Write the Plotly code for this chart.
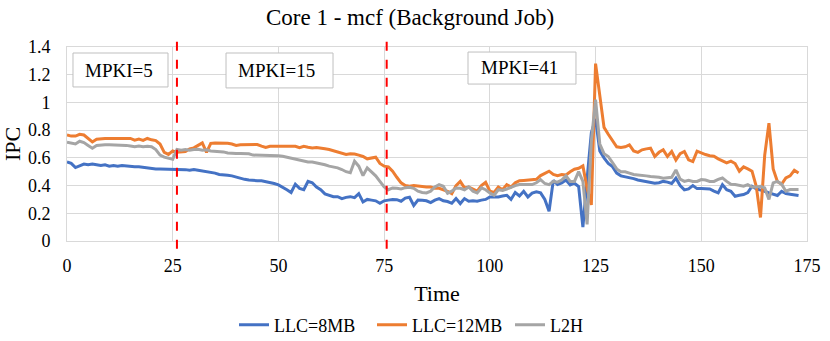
import plotly.graph_objects as go

time = list(range(174))

llc_8mb = [0.57, 0.56, 0.53, 0.54, 0.555, 0.55, 0.555, 0.55, 0.545, 0.55,
           0.54, 0.545, 0.54, 0.545, 0.54, 0.535, 0.535, 0.535, 0.53, 0.53,
           0.525, 0.52, 0.52, 0.52, 0.52, 0.52, 0.52, 0.515, 0.515, 0.51,
           0.515, 0.51, 0.505, 0.505, 0.5, 0.49, 0.48, 0.48, 0.475, 0.47,
           0.46, 0.455, 0.445, 0.44, 0.435, 0.435, 0.435, 0.43, 0.42, 0.415,
           0.405, 0.39, 0.37, 0.35, 0.41, 0.38, 0.37, 0.43, 0.42, 0.39,
           0.37, 0.34, 0.33, 0.32, 0.32, 0.306, 0.315, 0.32, 0.313, 0.342,
           0.282, 0.30, 0.295, 0.29, 0.272, 0.29, 0.295, 0.30, 0.298, 0.287,
           0.31, 0.316, 0.257, 0.296, 0.294, 0.29, 0.277, 0.295, 0.306, 0.29,
           0.285, 0.272, 0.306, 0.27, 0.306, 0.287, 0.29, 0.287, 0.295, 0.30,
           0.318, 0.318, 0.318, 0.325, 0.33, 0.30, 0.35, 0.325, 0.359, 0.318,
           0.345, 0.355, 0.347, 0.30, 0.215, 0.437, 0.407, 0.42, 0.44, 0.405,
           0.417, 0.393, 0.10, 0.45, 0.78, 0.88, 0.65, 0.60, 0.56, 0.537,
           0.49, 0.47, 0.465, 0.455, 0.45, 0.44, 0.435, 0.43, 0.425, 0.417,
           0.42, 0.43, 0.425, 0.415, 0.453, 0.40, 0.369, 0.376, 0.40, 0.378,
           0.378, 0.376, 0.376, 0.36, 0.347, 0.407, 0.37, 0.359, 0.323, 0.33,
           0.335, 0.35, 0.395, 0.376, 0.37, 0.359, 0.347, 0.335, 0.328, 0.359,
           0.342, 0.338, 0.335, 0.328]

llc_12mb = [0.765, 0.757, 0.757, 0.77, 0.765, 0.74, 0.715, 0.735, 0.74, 0.74,
            0.74, 0.74, 0.74, 0.74, 0.735, 0.74, 0.728, 0.735, 0.726, 0.74,
            0.73, 0.725, 0.70, 0.64, 0.625, 0.65, 0.64, 0.645, 0.645, 0.665,
            0.672, 0.69, 0.708, 0.64, 0.705, 0.708, 0.708, 0.706, 0.705, 0.70,
            0.69, 0.695, 0.696, 0.696, 0.697, 0.696, 0.685, 0.675, 0.684, 0.684,
            0.684, 0.684, 0.684, 0.684, 0.684, 0.674, 0.684, 0.677, 0.672, 0.675,
            0.668, 0.665, 0.66, 0.65, 0.64, 0.632, 0.624, 0.63, 0.628, 0.62,
            0.61, 0.593, 0.60, 0.605, 0.56, 0.54, 0.535, 0.504, 0.46, 0.42,
            0.40, 0.395, 0.40, 0.395, 0.395, 0.39, 0.39, 0.38, 0.38, 0.37,
            0.359, 0.342, 0.40, 0.43, 0.383, 0.39, 0.375, 0.36, 0.40, 0.424,
            0.36, 0.35, 0.39, 0.37, 0.407, 0.39, 0.42, 0.435, 0.437, 0.44,
            0.447, 0.445, 0.472, 0.49, 0.504, 0.48, 0.472, 0.48, 0.477, 0.50,
            0.518, 0.525, 0.542, 0.38, 0.26, 1.28, 1.05, 0.82, 0.77, 0.72,
            0.68, 0.675, 0.68, 0.694, 0.65, 0.64, 0.658, 0.665, 0.67, 0.61,
            0.64, 0.658, 0.61, 0.646, 0.585, 0.63, 0.646, 0.586, 0.573, 0.648,
            0.635, 0.624, 0.615, 0.612, 0.593, 0.58, 0.564, 0.576, 0.559, 0.504,
            0.535, 0.52, 0.504, 0.395, 0.17, 0.62, 0.85, 0.52, 0.43, 0.41,
            0.455, 0.47, 0.51, 0.49]

l2h = [0.713, 0.705, 0.70, 0.72, 0.71, 0.69, 0.67, 0.69, 0.695, 0.695,
       0.695, 0.695, 0.695, 0.69, 0.69, 0.685, 0.68, 0.685, 0.68, 0.683,
       0.68, 0.66, 0.62, 0.605, 0.595, 0.59, 0.66, 0.655, 0.66, 0.655,
       0.66, 0.662, 0.655, 0.658, 0.65, 0.648, 0.645, 0.643, 0.635, 0.631,
       0.631, 0.631, 0.631, 0.63, 0.62, 0.62, 0.62, 0.62, 0.62, 0.62,
       0.615, 0.612, 0.605, 0.598, 0.59, 0.58, 0.576, 0.57, 0.57, 0.565,
       0.558, 0.55, 0.54, 0.535, 0.528, 0.516, 0.50, 0.492, 0.576, 0.54,
       0.472, 0.528, 0.50, 0.47, 0.43, 0.39, 0.37, 0.383, 0.38, 0.376,
       0.385, 0.388, 0.38, 0.359, 0.35, 0.347, 0.36, 0.39, 0.407, 0.395,
       0.345, 0.36, 0.383, 0.38, 0.37, 0.39, 0.36, 0.347, 0.383, 0.37,
       0.347, 0.33, 0.37, 0.365, 0.375, 0.39, 0.40, 0.407, 0.407, 0.407,
       0.407, 0.42, 0.443, 0.415, 0.407, 0.43, 0.425, 0.44, 0.47, 0.43,
       0.43, 0.50, 0.43, 0.12, 0.72, 1.02, 0.70, 0.63, 0.61, 0.565,
       0.52, 0.50, 0.50, 0.49, 0.48, 0.477, 0.475, 0.47, 0.465, 0.465,
       0.46, 0.453, 0.455, 0.46, 0.513, 0.446, 0.43, 0.438, 0.43, 0.43,
       0.443, 0.44, 0.43, 0.43, 0.445, 0.455, 0.43, 0.41, 0.407, 0.40,
       0.395, 0.407, 0.39, 0.39, 0.395, 0.383, 0.30, 0.42, 0.43, 0.41,
       0.359, 0.371, 0.371, 0.371]

series_names = ["LLC=8MB", "LLC=12MB", "L2H"]
series_colors = ["#4472C4", "#ED7D31", "#A5A5A5"]

x_ticks = [0, 25, 50, 75, 100, 125, 150, 175]
y_ticks = [0, 0.2, 0.4, 0.6, 0.8, 1.0, 1.2, 1.4]
y_tick_text = ["0", "0.2", "0.4", "0.6", "0.8", "1", "1.2", "1.4"]

phase_boundaries = [26, 75.6]
phase_labels = ["MPKI=5", "MPKI=15", "MPKI=41"]
# label boxes in paper coordinates: (x0, x1, y0, y1, text_x, text_y)
phase_boxes = [(0.0081, 0.1365, 0.794, 0.969, 0.0216, 0.881),
               (0.2149, 0.3595, 0.789, 0.969, 0.2284, 0.879),
               (0.5419, 0.6878, 0.809, 0.974, 0.5568, 0.892)]

FONT = "Liberation Serif"

fig = go.Figure()
for name, vals, col in zip(series_names, [llc_8mb, llc_12mb, l2h], series_colors):
    fig.add_trace(go.Scatter(x=time, y=vals, mode="lines", name=name,
                             line=dict(color=col, width=3)))

for xb in phase_boundaries:
    fig.add_shape(type="line", xref="x", yref="paper", x0=xb, x1=xb,
                  y0=-0.04, y1=1.03, line=dict(color="#FF0000", width=2, dash="dash"),
                  layer="above")

for lab, (x0, x1, y0, y1, tx, ty) in zip(phase_labels, phase_boxes):
    fig.add_shape(type="rect", xref="paper", yref="paper", x0=x0, x1=x1, y0=y0, y1=y1,
                  line=dict(color="#BFBFBF", width=1), fillcolor="white", layer="above")
    fig.add_annotation(xref="paper", yref="paper", x=tx, y=ty, text=lab,
                       showarrow=False, xanchor="left", yanchor="middle",
                       font=dict(family=FONT, size=19, color="#000000"))

fig.update_layout(
    width=830, height=341,
    margin=dict(l=67, r=23, t=47, b=100, autoexpand=False),
    paper_bgcolor="white", plot_bgcolor="white",
    font=dict(family=FONT, size=18, color="#000000"),
    title=dict(text="Core 1 - mcf (Background Job)", x=0.494, xref="container",
               xanchor="center", y=1 - 17 / 341, yref="container", yanchor="middle",
               font=dict(family=FONT, size=23, color="#000000")),
    legend=dict(orientation="h", xref="container", yref="container",
                x=234 / 830, xanchor="left", y=16 / 341, yanchor="middle",
                font=dict(family=FONT, size=18), itemwidth=30,
                entrywidth=93, entrywidthmode="pixels",
                traceorder="normal"),
    showlegend=True,
)
fig.update_xaxes(range=[0, 175], tickvals=x_ticks, ticktext=[str(v) for v in x_ticks],
                 showgrid=True, gridcolor="#D9D9D9", gridwidth=1, automargin=False,
                 zeroline=False, showline=True, linecolor="#D9D9D9", mirror=True,
                 ticks="", ticklabelstandoff=8, title=dict(text="Time", standoff=12),
                 tickfont=dict(family=FONT, size=18))
fig.update_yaxes(range=[0, 1.4], tickvals=y_ticks, ticktext=y_tick_text,
                 showgrid=True, gridcolor="#D9D9D9", gridwidth=1, automargin=False,
                 zeroline=False, showline=True, linecolor="#D9D9D9", mirror=True,
                 ticks="", ticklabelstandoff=12, title=dict(text="IPC", standoff=10),
                 tickfont=dict(family=FONT, size=18))

fig.write_html("out.html", config={"displayModeBar": False},
               post_script="document.body.style.margin='0';")
